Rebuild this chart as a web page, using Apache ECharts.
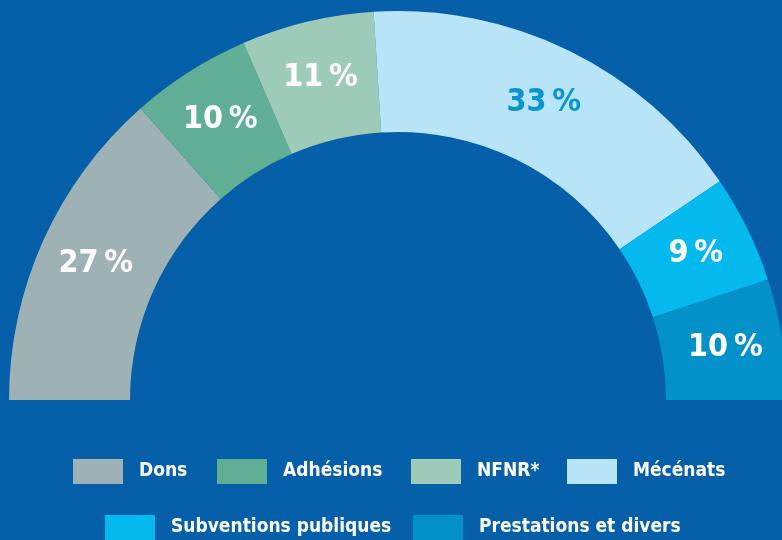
<!DOCTYPE html>
<html><head><meta charset="utf-8">
<script src="https://cdn.jsdelivr.net/npm/echarts@6/dist/echarts.min.js"></script>
<style>html,body{margin:0;padding:0;background:#0560a9;}#c{width:782px;height:540px;}</style>
</head><body><div id="c"></div>
<script>
const categories = ['Dons', 'Adhésions', 'NFNR*', 'Mécénats', 'Subventions publiques', 'Prestations et divers'];
const values = [27, 10, 11, 33, 9, 10];
const colors = ['#9eb2b6', '#5fae95', '#9ecab8', '#b8e4f8', '#03b9ee', '#0391c9'];
const labelColors = ['#ffffff', '#ffffff', '#ffffff', '#0a95d0', '#ffffff', '#ffffff'];
const legendLeft = [73, 217, 411, 567, 105, 413];
const legendTop = [459, 459, 459, 459, 515, 515];

const FONT = '"DejaVu Sans Condensed", "Liberation Sans Narrow", sans-serif';
const chart = echarts.init(document.getElementById('c'));
const legends = categories.map((n, i) => ({
  data: [n], left: legendLeft[i], top: legendTop[i], padding: 0,
  orient: 'horizontal', icon: 'rect', itemWidth: 50, itemHeight: 25,
  selectedMode: false,
  textStyle: { color: '#ffffff', fontSize: 19, fontWeight: 'bold', fontFamily: FONT, padding: [0, 0, 0, 11] }
}));
chart.setOption({
  backgroundColor: '#0560a9',
  animation: false,
  legend: legends,
  series: [{
    type: 'pie',
    center: [398, 400],
    radius: [268, 389],
    startAngle: 180,
    endAngle: 0,
    clockwise: true,
    silent: true,
    itemStyle: { borderWidth: 0 },
    label: {
      show: true, position: 'inside', formatter: '{c}\u2009%',
      fontSize: 32, fontWeight: 'bold', fontFamily: FONT
    },
    labelLine: { show: false },
    data: categories.map((n, i) => ({
      name: n, value: values[i],
      itemStyle: { color: colors[i] },
      label: { color: labelColors[i] }
    }))
  }]
});
</script></body></html>
